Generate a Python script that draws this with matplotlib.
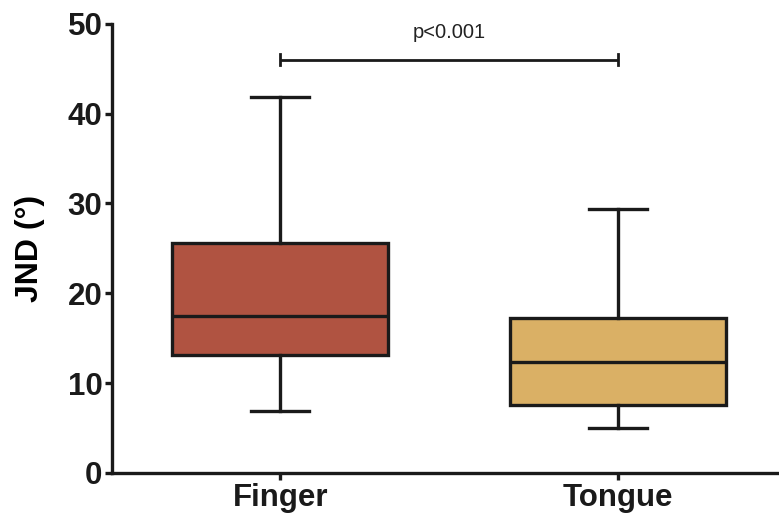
import numpy as np
import matplotlib
matplotlib.use('Agg')
import matplotlib.pyplot as plt

plt.rcParams['font.family'] = ['Liberation Sans', 'DejaVu Sans']

groups = ['Finger', 'Tongue']
whislo = [6.9, 5.0]
q1 = [13.1, 7.6]
med = [17.5, 12.4]
q3 = [25.6, 17.3]
whishi = [41.9, 29.4]
colors = ['#B05341', '#DAB065']
p_text = 'p<0.001'

fig = plt.figure(figsize=(7.79, 5.18), dpi=100)
ax = fig.add_axes([0.144, 0.087, 0.856, 0.867])

stats = []
for i in range(len(groups)):
    stats.append(dict(label=groups[i], whislo=whislo[i], q1=q1[i], med=med[i],
                      q3=q3[i], whishi=whishi[i], fliers=[]))

lw = 2.4
bp = ax.bxp(stats, positions=[1, 2], widths=0.64, patch_artist=True,
            showfliers=False,
            boxprops=dict(linewidth=lw, edgecolor='#1a1a1a'),
            medianprops=dict(linewidth=lw, color='#1a1a1a'),
            whiskerprops=dict(linewidth=lw, color='#1a1a1a'),
            capprops=dict(linewidth=lw, color='#1a1a1a'),
            capwidths=0.17)
for patch, c in zip(bp['boxes'], colors):
    patch.set_facecolor(c)

# significance bar
ybar = 46.0
ax.plot([1, 2], [ybar, ybar], color='#1a1a1a', lw=2.0, solid_capstyle='butt')
ax.plot([1, 1], [ybar - 0.6, ybar + 0.6], color='#1a1a1a', lw=2.0)
ax.plot([2, 2], [ybar - 0.6, ybar + 0.6], color='#1a1a1a', lw=2.0)
ax.text(1.5, 49.0, p_text, ha='center', va='center', fontsize=14.5, color='#222222')

ax.set_xlim(0.503, 2.476)
ax.set_ylim(0, 50)
ax.set_yticks([0, 10, 20, 30, 40, 50])
ax.set_xticks([1, 2])
ax.set_xticklabels(groups)
ax.set_ylabel('JND (°)', fontsize=23, fontweight='bold', labelpad=16)

for s in ['top', 'right']:
    ax.spines[s].set_visible(False)
for s in ['left', 'bottom']:
    ax.spines[s].set_linewidth(2.4)
    ax.spines[s].set_color('#1a1a1a')
ax.tick_params(axis='both', width=2.4, length=5, color='#1a1a1a', labelsize=22.5, pad=2)
for lab in ax.get_xticklabels() + ax.get_yticklabels():
    lab.set_fontweight('bold')
    lab.set_color('#1a1a1a')

fig.savefig('out.png', dpi=100)
